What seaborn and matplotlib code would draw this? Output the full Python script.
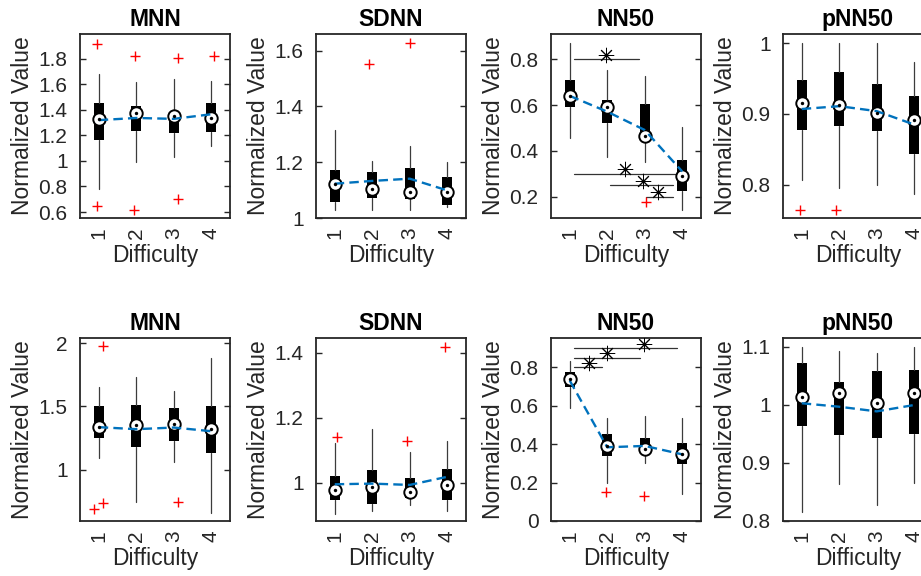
import matplotlib
matplotlib.use("Agg")
import matplotlib.pyplot as plt
import matplotlib.transforms as mtransforms
from matplotlib.ticker import FuncFormatter
import seaborn as sns

# difficulty levels and panel titles (top row, then bottom row)
levels = [1, 2, 3, 4]
titles = ["MNN", "SDNN", "NN50", "pNN50", "MNN", "SDNN", "NN50", "pNN50"]

# box statistics per panel, one value per difficulty level
whisker_lo = [[0.78, 0.995, 1.03, 1.12], [1.027, 1.03, 1.029, 1.041],
              [0.455, 0.375, 0.35, 0.142], [0.806, 0.796, 0.799, 0.787],
              [1.092, 0.745, 1.061, 0.658], [0.904, 0.914, 0.931, 0.914],
              [0.587, 0.20, 0.304, 0.141], [0.815, 0.864, 0.827, 0.865]]
q1 = [[1.165, 1.235, 1.222, 1.23], [1.057, 1.07, 1.069, 1.048],
      [0.59, 0.52, 0.458, 0.226], [0.878, 0.883, 0.876, 0.843],
      [1.25, 1.184, 1.229, 1.132], [0.948, 0.933, 0.952, 0.948],
      [0.696, 0.339, 0.347, 0.295], [0.963, 0.948, 0.943, 0.950]]
median = [[1.327, 1.374, 1.353, 1.335], [1.123, 1.103, 1.093, 1.094],
          [0.64, 0.59, 0.465, 0.29], [0.916, 0.913, 0.901, 0.892],
          [1.342, 1.355, 1.358, 1.321], [0.976, 0.988, 0.972, 0.992],
          [0.738, 0.391, 0.373, 0.349], [1.013, 1.021, 1.004, 1.021]]
q3 = [[1.452, 1.431, 1.387, 1.452], [1.173, 1.165, 1.181, 1.147],
      [0.71, 0.622, 0.603, 0.36], [0.948, 0.96, 0.942, 0.926],
      [1.5, 1.508, 1.487, 1.505], [1.019, 1.039, 1.015, 1.041],
      [0.778, 0.451, 0.43, 0.408], [1.073, 1.040, 1.058, 1.060]]
whisker_hi = [[1.68, 1.622, 1.643, 1.627], [1.314, 1.205, 1.258, 1.202],
              [0.87, 0.753, 0.727, 0.506], [1.0, 1.0, 1.0, 0.974],
              [1.653, 1.732, 1.626, 1.882], [1.121, 1.165, 1.093, 1.127],
              [0.833, 0.538, 0.547, 0.538], [1.100, 1.093, 1.089, 1.100]]
mean = [[1.32, 1.337, 1.33, 1.366], [1.123, 1.133, 1.141, 1.099],
        [0.64, 0.571, 0.491, 0.31], [0.907, 0.911, 0.904, 0.885],
        [1.337, 1.321, 1.334, 1.305], [0.995, 0.997, 0.993, 1.018],
        [0.731, 0.384, 0.391, 0.347], [1.003, 0.997, 0.989, 1.000]]

# outliers per panel: group, value, small horizontal jitter
outlier_group = [[1, 1, 2, 2, 3, 3, 4], [2, 3], [3], [1, 2],
                 [1, 1, 1, 3], [1, 3, 4], [2, 3], []]
outlier_value = [[1.92, 0.65, 1.826, 0.616, 1.805, 0.705, 1.826], [1.552, 1.628],
                 [0.178], [0.764, 0.764],
                 [1.974, 0.692, 0.737, 0.747], [1.139, 1.127, 1.418],
                 [0.153, 0.13], []]
outlier_jitter = [[-0.06, -0.04, -0.03, -0.07, 0.12, 0.11, 0.08], [-0.1, 0.0],
                  [0.04], [-0.04, -0.09],
                  [0.12, -0.12, 0.1, 0.12], [0.06, -0.08, -0.07],
                  [-0.03, -0.02], []]

# significance brackets (NN50 panels): start, end, level, star position
sig_panel = [2, 2, 2, 2, 6, 6, 6]
sig_x1 = [1.1, 1.1, 2.08, 3.04, 1.1, 1.1, 1.1]
sig_x2 = [2.85, 3.85, 3.76, 3.76, 1.87, 2.86, 3.86]
sig_y = [0.80, 0.30, 0.25, 0.20, 0.80, 0.85, 0.90]
sig_star_x = [1.97, 2.47, 2.96, 3.36, 1.5, 1.99, 2.98]

# axis ranges and ticks
y_limits = [(0.553, 1.995), (1.0, 1.66), (0.107, 0.91), (0.753, 1.013),
            (0.597, 2.04), (0.882, 1.445), (0.0, 0.953), (0.8, 1.1155)]
y_ticks = [[0.6, 0.8, 1, 1.2, 1.4, 1.6, 1.8], [1, 1.2, 1.4, 1.6],
           [0.2, 0.4, 0.6, 0.8], [0.8, 0.9, 1],
           [1, 1.5, 2], [1, 1.2, 1.4],
           [0, 0.2, 0.4, 0.6, 0.8], [0.8, 0.9, 1, 1.1]]

sns.set_style("white")
plt.rcParams["font.family"] = ["Liberation Sans", "DejaVu Sans"]
text_col = "#262626"

fig = plt.figure(figsize=(9.21, 5.76), dpi=100)
lefts = [80, 316, 551, 783]
rows = [(34, 218), (338, 521)]
W, H = 921.0, 576.0

star_shift = mtransforms.ScaledTranslation(0, 4.5 / 100, fig.dpi_scale_trans)

for p in range(8):
    top, bot = rows[p // 4]
    left = lefts[p % 4]
    ax = fig.add_axes([left / W, 1 - bot / H, 150 / W, (bot - top) / H])

    stats = []
    for i in range(4):
        stats.append(dict(med=median[p][i], q1=q1[p][i], q3=q3[p][i],
                          whislo=whisker_lo[p][i], whishi=whisker_hi[p][i],
                          fliers=[]))
    ax.bxp(stats, positions=levels, widths=0.27, patch_artist=True,
           showcaps=False, showfliers=False,
           boxprops=dict(facecolor="black", edgecolor="black", linewidth=0),
           whiskerprops=dict(color="#3c3c3c", linewidth=0.9),
           medianprops=dict(linewidth=0), zorder=2)

    # significance brackets
    for k in range(len(sig_panel)):
        if sig_panel[k] != p:
            continue
        ax.plot([sig_x1[k], sig_x2[k]], [sig_y[k], sig_y[k]],
                color="#333333", lw=0.9, zorder=1.5)
        ax.plot([sig_star_x[k]], [sig_y[k]], marker=(8, 2, 0), ms=11,
                mew=0.7, color="black", ls="none",
                transform=ax.transData + star_shift, zorder=6)

    # outliers
    if outlier_group[p]:
        xs = [g + d for g, d in zip(outlier_group[p], outlier_jitter[p])]
        sns.scatterplot(x=xs, y=outlier_value[p], marker="+", s=50,
                        color="red", linewidth=1.0, ax=ax, zorder=3)

    # median circles
    sns.scatterplot(x=levels, y=median[p], s=80, color="white",
                    edgecolor="black", linewidth=1.4, ax=ax, zorder=3.5)
    # mean trend line
    sns.lineplot(x=levels, y=mean[p], color="#0072BD", lw=1.7,
                 linestyle=(0, (4, 2.2)), ax=ax, zorder=4)
    sns.scatterplot(x=levels, y=median[p], s=6, color="black",
                    linewidth=0, ax=ax, zorder=5)

    ax.set_xlim(0.5, 4.5)
    ax.set_ylim(*y_limits[p])
    ax.set_xticks(levels)
    ax.set_xticklabels([str(v) for v in levels], rotation=90)
    ax.set_yticks(y_ticks[p])
    ax.yaxis.set_major_formatter(FuncFormatter(lambda v, pos: "%g" % v))
    ax.tick_params(axis="y", direction="in", length=4, width=1,
                   left=True, right=True, labelsize=15, colors=text_col,
                   pad=9)
    ax.tick_params(axis="x", length=0, labelsize=15, colors=text_col, pad=7)
    for s in ax.spines.values():
        s.set_linewidth(1.3)
        s.set_color(text_col)
    ax.set_title(titles[p], fontsize=16.5, fontweight="bold", color="black", pad=6)
    ax.set_xlabel("Difficulty", fontsize=16.5, color=text_col, labelpad=3)
    ax.set_ylabel("Normalized Value", fontsize=16.5, color=text_col, labelpad=3)

plt.savefig("out.png", dpi=100)
